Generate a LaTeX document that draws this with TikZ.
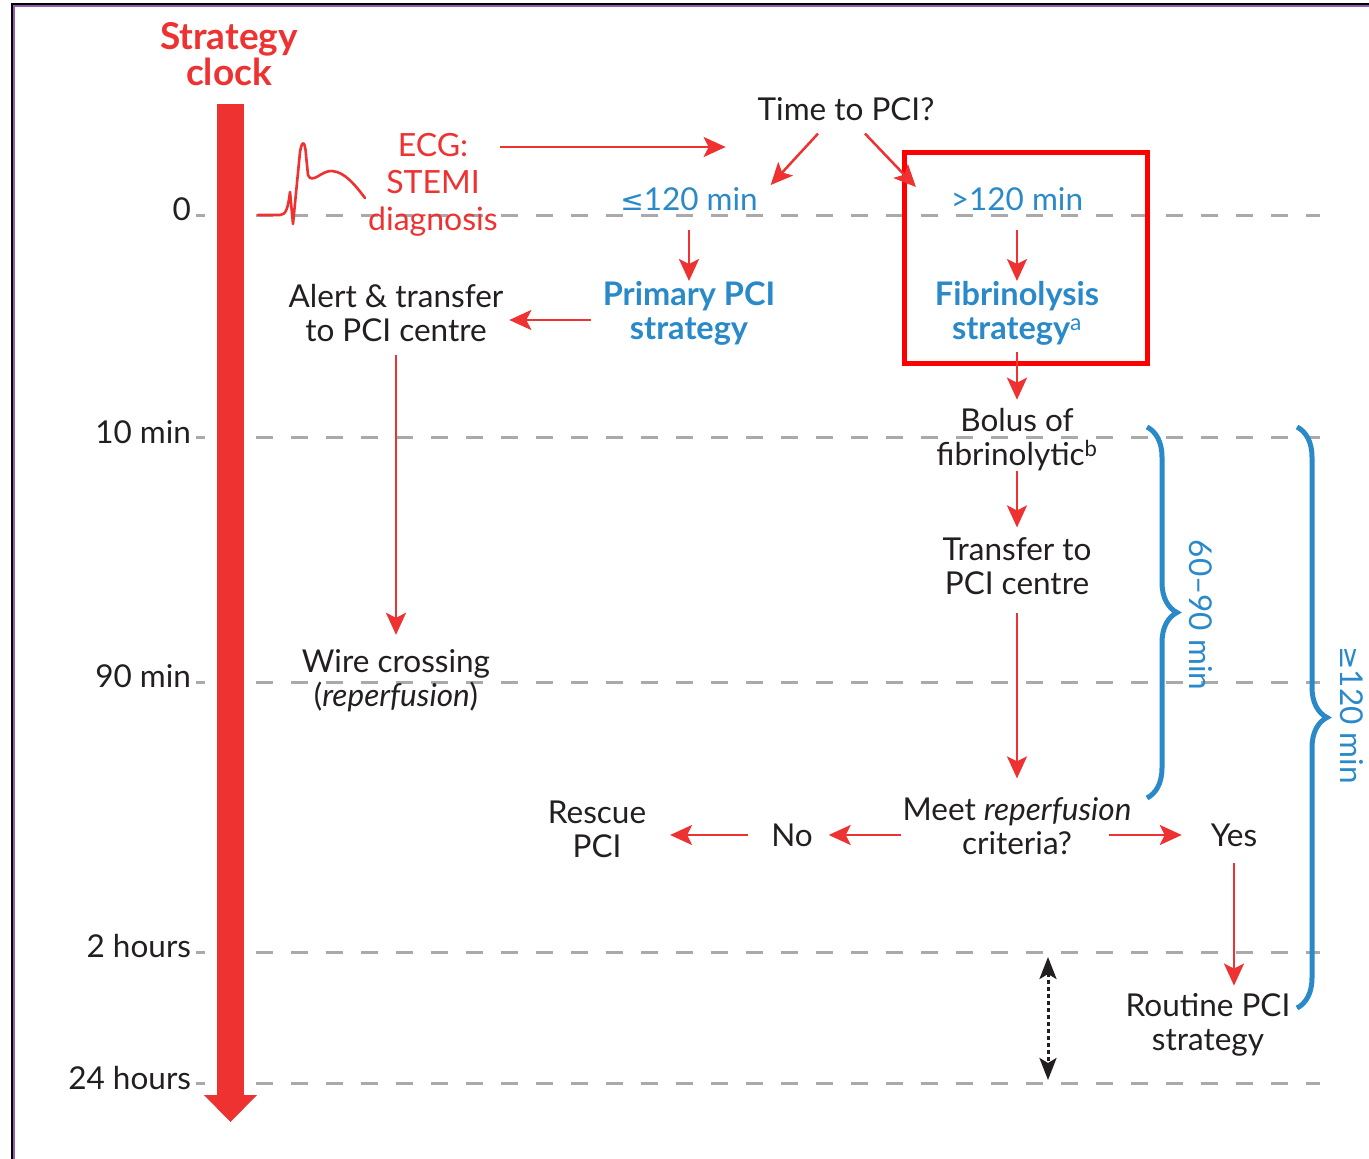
\documentclass[tikz,border=0pt]{standalone}
\usepackage{fontspec}
\setmainfont{Lato}
\newfontfamily\symf{DejaVu Sans}
\usetikzlibrary{arrows.meta,calc,decorations.pathreplacing}
\definecolor{escred}{RGB}{238,50,50}
\definecolor{escblue}{RGB}{42,138,201}
\definecolor{gridgray}{RGB}{170,170,172}
\definecolor{ink}{RGB}{35,31,32}
\definecolor{boxred}{RGB}{255,0,0}
\definecolor{framepurple}{RGB}{150,90,175}
\begin{document}
\begin{tikzpicture}[x=1pt,y=-1pt,
  txt/.style={text=ink, align=center, inner sep=0pt, outer sep=0pt, font=\fontsize{31.5}{34}\selectfont},
  bluetxt/.style={txt, text=escblue},
  bluebold/.style={txt, text=escblue, font=\fontsize{32.5}{34}\selectfont\bfseries},
  redtxt/.style={txt, text=escred, font=\fontsize{32}{37}\selectfont},
  arr/.style={draw=escred, line width=2.5pt, -{Stealth[length=22pt,width=20pt,inset=5pt]}},
  gridl/.style={draw=gridgray, line width=3pt},
  ticklab/.style={txt, anchor=east},
  bracestyle/.style={draw=escblue, line width=5pt, decorate, decoration={brace, amplitude=30pt}},
]
\useasboundingbox (0,0) rectangle (1369,1159);
\fill[white] (0,0) rectangle (1369,1159);
% frame
\draw[black, line width=2pt] (11.5,1159) -- (11.5,3.5) -- (1369,3.5);
\draw[framepurple, line width=2.5pt] (14,1159) -- (14,6) -- (1369,6);

% grid lines
\foreach \y in {215,437,682,952,1083} {
  \draw[gridl] (196,\y) -- (205,\y);
  \draw[gridl, dash pattern=on 17pt off 18pt] (256,\y) -- (1320,\y);
}

% clock bar
\fill[escred] (217,104) rectangle (244,1096);
\fill[escred] (204,1095) -- (257,1095) -- (230.5,1122) -- cycle;
\node[txt, text=escred, font=\fontsize{37}{36}\selectfont\bfseries] (clock) at (229,54) {Strategy\\clock};

% tick labels
\node[ticklab] (t0) at (191,209) {0};
\node[ticklab] (t10) at (191,432) {10 min};
\node[ticklab] (t90) at (191,676) {90 min};
\node[ticklab] (t2h) at (191,946) {2 hours};
\node[ticklab] (t24) at (191,1078) {24 hours};

% ECG trace
\draw[escred, line width=2.6pt, line join=round, line cap=round]
  (258,215) -- (280,215) .. controls (286,215) and (288,208) .. (290,192)
  -- (293,224) -- (300,152) .. controls (302,140) and (305,140) .. (306,155)
  -- (308,175) .. controls (312,185) and (322,170) .. (332,171)
  .. controls (345,172) and (355,185) .. (365,198);

% nodes
\node[redtxt] (ecg) at (433,185) {ECG:\\STEMI\\diagnosis};
\node[txt] (time) at (846,109) {Time to PCI?};
\node[bluetxt] (le) at (689,199) {{\symf\fontsize{28}{34}\selectfont ≤}120 min};
\node[bluetxt] (gt) at (1017,199) {>120 min};
\node[bluebold] (primary) at (689,313) {Primary PCI\\strategy};
\node[txt] (alert) at (396,313) {Alert \& transfer\\to PCI centre};
\node[txt] (wire) at (396,681) {Wire crossing\\(\textit{reperfusion})};
\node[bluebold] (fib) at (1017,313) {Fibrinolysis\\strategy\textsuperscript{\mdseries a}};
\node[txt] (bolus) at (1017,440) {Bolus of\\fibrinolytic\textsuperscript{b}};
\node[txt] (transfer) at (1017,566) {Transfer to\\PCI centre};
\node[txt] (meet) at (1017,826) {Meet \textit{reperfusion}\\criteria?};
\node[txt] (no) at (792,835) {No};
\node[txt] (rescue) at (597,829) {Rescue\\PCI};
\node[txt] (yes) at (1234,835) {Yes};
\node[txt] (routine) at (1208,1025) {Routine PCI\\strategy};
\node[bluetxt, rotate=-90] (b1lab) at (1201,615) {60–90 min};
\node[bluetxt, rotate=-90] (b2lab) at (1352,715) {{\symf\fontsize{28}{34}\selectfont ≥}120 min};

% highlight box
\draw[boxred, line width=5pt] (904,152) rectangle (1147,363);

% braces
\draw[bracestyle] (1147,427) -- (1147,798);
\draw[bracestyle] (1297,427) -- (1297,1008);

% arrows
\draw[arr] ($(ecg.east)+(2,-38)$) -- ($(time.west)+(-32,38)$);
\draw[arr] ($(time.south)+(-28,13)$) -- ($(le.east)+(13,-14)$);
\draw[arr] ($(time.south)+(19,13)$) -- ($(gt.west)+(-35,-12)$);
\draw[arr, shorten <=19pt] (le) -- (primary);
\draw[arr, shorten <=19pt] (gt) -- (fib);
\draw[arr] ($(primary.west)+(-12,7)$) -- ($(alert.east)+(6,7)$);
\draw[arr, shorten <=13pt, shorten >=15pt] (alert) -- (wire);
\draw[arr, shorten <=7pt, shorten >=9pt] (fib) -- (bolus);
\draw[arr, shorten >=10pt] (bolus) -- (transfer);
\draw[arr, shorten <=18pt, shorten >=19pt] (transfer) -- (meet);
\draw[arr, shorten <=2pt, shorten >=16pt] (meet.west |- no.east) -- (no.east);
\draw[arr, shorten <=23pt, shorten >=24pt] (no.west) -- (no.west -| rescue.east);
\draw[arr, shorten >=29pt] ($(meet.east |- yes.west)+(-22,0)$) -- (yes.west);
\draw[arr, shorten <=17pt, shorten >=8pt] (yes.south) -- (yes.south |- routine.north);

% dotted double arrow
\coordinate (d1) at (1048,952);
\coordinate (d2) at (1048,1083);
\draw[ink, line width=3pt, dash pattern=on 4pt off 3pt,
  {Stealth[length=22pt,width=17pt,inset=5pt]}-{Stealth[length=22pt,width=17pt,inset=5pt]},
  shorten <=5pt, shorten >=3pt] (d1) -- (d2);
\end{tikzpicture}
\end{document}
